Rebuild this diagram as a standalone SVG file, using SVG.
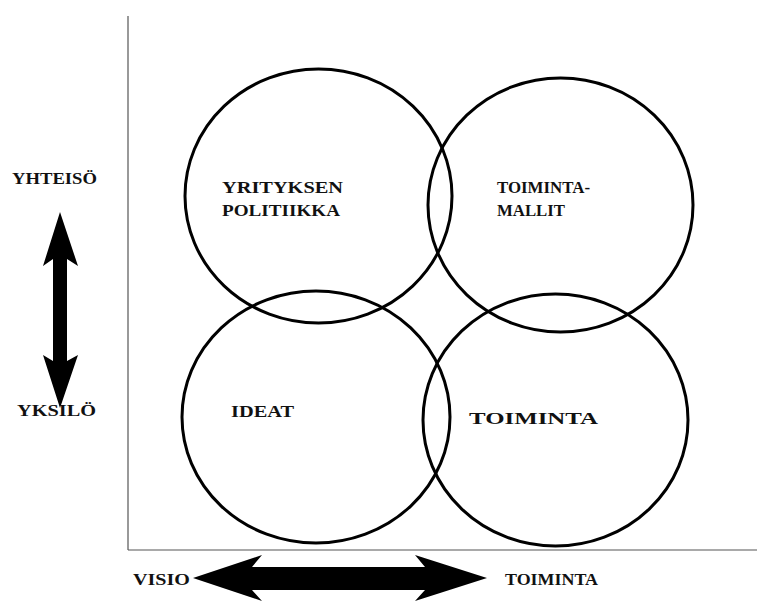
<svg xmlns="http://www.w3.org/2000/svg" width="760" height="601" viewBox="0 0 760 601">
  <style>
    .ring { fill: none; stroke: #000; stroke-width: 3; }
    .lbl { font-family: "Liberation Serif", "DejaVu Serif", serif; font-size: 17px; font-weight: bold; fill: #111; }
    .axis { stroke: #555; stroke-width: 1.2; fill: none; }
    .arrow { fill: #000; }
  </style>
  <rect width="760" height="601" fill="#fff"/>

  <!-- axes -->
  <g id="axes">
    <line class="axis" x1="128" y1="16" x2="128" y2="550" stroke="#999"/>
    <line class="axis" x1="128" y1="550" x2="757" y2="550"/>
  </g>

  <!-- double-headed axis arrows -->
  <g id="connectors">
    <polygon class="arrow" points="60,212 78,266 67,259 67,361 78,355 60,408 43,355 53,361 53,259 43,266"/>
    <polygon class="arrow" points="193,578 262,555 252,567 425,567 415,555 487,578 415,601 425,590 252,590 262,601"/>
  </g>

  <g id="axis-labels">
    <text class="lbl" x="12" y="184" textLength="85" lengthAdjust="spacingAndGlyphs">YHTEISÖ</text>
    <text class="lbl" x="17" y="416" textLength="79" lengthAdjust="spacingAndGlyphs">YKSILÖ</text>
    <text class="lbl" x="133" y="585" textLength="57" lengthAdjust="spacingAndGlyphs">VISIO</text>
    <text class="lbl" x="505" y="585" textLength="93" lengthAdjust="spacingAndGlyphs">TOIMINTA</text>
  </g>

  <g id="node-politiikka">
    <ellipse class="ring" cx="318.5" cy="196" rx="133.5" ry="127"/>
    <text class="lbl" x="222" y="193" textLength="121" lengthAdjust="spacingAndGlyphs">YRITYKSEN</text>
    <text class="lbl" x="222" y="216" textLength="118" lengthAdjust="spacingAndGlyphs">POLITIIKKA</text>
  </g>

  <g id="node-toimintamallit">
    <ellipse class="ring" cx="560.5" cy="205" rx="132.5" ry="127"/>
    <text class="lbl" x="497" y="193" textLength="93" lengthAdjust="spacingAndGlyphs">TOIMINTA-</text>
    <text class="lbl" x="497" y="216" textLength="68" lengthAdjust="spacingAndGlyphs">MALLIT</text>
  </g>

  <g id="node-ideat">
    <ellipse class="ring" cx="316" cy="417" rx="134" ry="126"/>
    <text class="lbl" x="231" y="417" textLength="63" lengthAdjust="spacingAndGlyphs">IDEAT</text>
  </g>

  <g id="node-toiminta">
    <ellipse class="ring" cx="555.5" cy="420" rx="132.5" ry="126"/>
    <text class="lbl" x="469" y="424" textLength="129" lengthAdjust="spacingAndGlyphs">TOIMINTA</text>
  </g>
</svg>
